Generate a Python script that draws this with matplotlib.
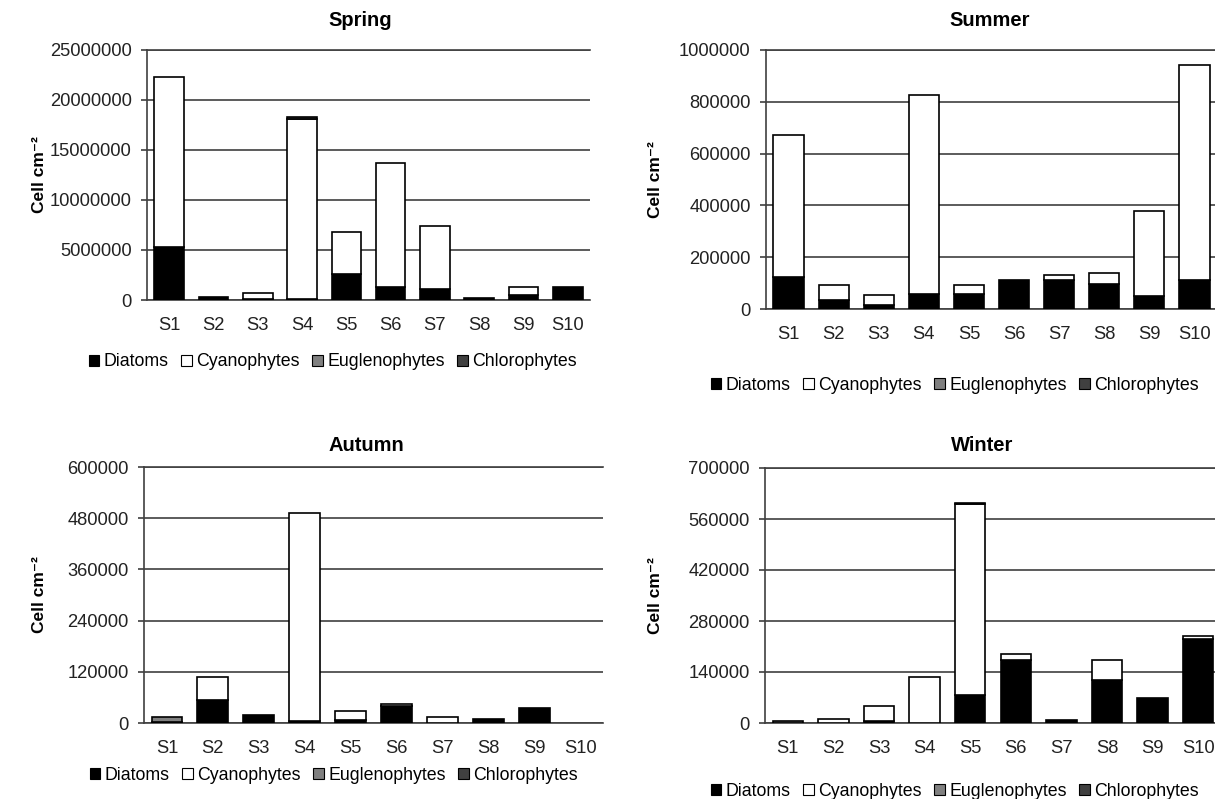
import matplotlib
matplotlib.use("Agg")
import matplotlib.pyplot as plt
from matplotlib.patches import Patch
import numpy as np

plt.rcParams['font.family'] = ['Liberation Sans', 'DejaVu Sans']

# ---- Data (cells per cm2) ----
stations = ["S1", "S2", "S3", "S4", "S5", "S6", "S7", "S8", "S9", "S10"]
groups = ["Diatoms", "Cyanophytes", "Euglenophytes", "Chlorophytes"]

spring_diatoms = [5330000, 300000, 100000, 120000, 2570000, 1270000, 1070000, 170000, 500000, 1270000]
spring_cyano = [16940000, 0, 630000, 18010000, 4260000, 12460000, 6300000, 0, 770000, 0]
spring_eugleno = [0, 0, 0, 0, 0, 0, 0, 0, 0, 0]
spring_chloro = [0, 0, 0, 200000, 0, 0, 0, 0, 0, 0]

summer_diatoms = [122000, 35000, 14000, 57000, 57000, 111000, 112000, 95000, 52000, 111000]
summer_cyano = [551000, 58000, 41000, 771000, 36000, 0, 19000, 43000, 326000, 832000]
summer_eugleno = [0, 0, 0, 0, 0, 0, 0, 0, 0, 0]
summer_chloro = [0, 0, 0, 0, 0, 0, 0, 0, 0, 0]

autumn_diatoms = [3000, 53000, 18000, 5000, 6000, 39000, 1000, 10000, 36000, 0]
autumn_cyano = [0, 55000, 0, 487000, 21500, 6500, 12000, 0, 0, 0]
autumn_eugleno = [10400, 0, 0, 0, 0, 0, 0, 0, 0, 0]
autumn_chloro = [0, 0, 0, 0, 0, 0, 0, 0, 0, 0]

winter_diatoms = [0, 0, 6000, 0, 77000, 173000, 8000, 117000, 69000, 231000]
winter_cyano = [0, 11000, 42000, 125000, 523000, 16000, 0, 55000, 0, 7000]
winter_eugleno = [6000, 0, 0, 0, 0, 0, 0, 0, 0, 0]
winter_chloro = [0, 0, 0, 0, 4000, 0, 0, 0, 0, 0]

spring_ticks = [0, 5000000, 10000000, 15000000, 20000000, 25000000]
summer_ticks = [0, 200000, 400000, 600000, 800000, 1000000]
autumn_ticks = [0, 120000, 240000, 360000, 480000, 600000]
winter_ticks = [0, 140000, 280000, 420000, 560000, 700000]

colors = ["#000000", "#ffffff", "#808080", "#404040"]
GRID = "#404040"

W, H = 1215, 799
fig = plt.figure(figsize=(W / 100, H / 100), dpi=100)


def fx(px):
    return px / W


def fy(py):
    return 1 - py / H


# pixel boxes: left, right, top, bottom ; title pos ; ylabel x ; legend y ; legend x
panels = [
    ("Spring", (spring_diatoms, spring_cyano, spring_eugleno, spring_chloro), spring_ticks,
     (147, 590, 50, 300), (360, 20), 40, 362, 333),
    ("Summer", (summer_diatoms, summer_cyano, summer_eugleno, summer_chloro), summer_ticks,
     (766, 1217, 50, 309), (990, 20), 655, 385, 955),
    ("Autumn", (autumn_diatoms, autumn_cyano, autumn_eugleno, autumn_chloro), autumn_ticks,
     (144, 603, 467, 723), (366, 445), 40, 775, 334),
    ("Winter", (winter_diatoms, winter_cyano, winter_eugleno, winter_chloro), winter_ticks,
     (765, 1221, 468, 723), (982, 445), 655, 791, 955),
]

x = np.arange(len(stations))

for title, series, ticks, box, tpos, ylx, legy, legx in panels:
    l, r, t, b = box
    ax = fig.add_axes([fx(l), fy(b), fx(r) - fx(l), fy(t) - fy(b)])
    bottom = np.zeros(len(stations))
    for vals, c in zip(series, colors):
        vals = np.array(vals, dtype=float)
        mask = vals > 0
        ax.bar(x[mask], vals[mask], width=0.67, bottom=bottom[mask], color=c,
               edgecolor="black", linewidth=1.2, zorder=3)
        bottom += vals
    ax.set_xlim(-0.5, len(stations) - 0.5)
    ax.set_ylim(ticks[0], ticks[-1])
    ax.set_yticks(ticks)
    ax.set_yticklabels([str(v) for v in ticks])
    ax.set_xticks(x)
    ax.set_xticklabels(stations)
    ax.yaxis.grid(True, color=GRID, linewidth=1.2, zorder=0)
    ax.set_axisbelow(True)
    ax.spines["right"].set_visible(False)
    for s in ["left", "bottom", "top"]:
        ax.spines[s].set_color(GRID)
        ax.spines[s].set_linewidth(1.2)
    ax.tick_params(axis="y", length=4, width=1.2, color=GRID, pad=7,
                   labelsize=13.2, labelcolor="#222222")
    ax.tick_params(axis="x", length=0, pad=12, labelsize=13.2, labelcolor="#222222")

    fig.text(fx(tpos[0]), fy(tpos[1]), title, ha="center", va="center",
             fontsize=14.5, fontweight="bold")
    fig.text(fx(ylx), (fy(t) + fy(b)) / 2, "Cell cm\u207b\u00b2", rotation=90,
             ha="center", va="center", fontsize=12.5, fontweight="bold",
             family=["Liberation Sans", "DejaVu Sans"])

    handles = [Patch(facecolor=c, edgecolor="black", linewidth=0.8, label=g)
               for c, g in zip(colors, groups)]
    fig.legend(handles=handles, loc="center", bbox_to_anchor=(fx(legx), fy(legy)),
               ncol=4, frameon=False, fontsize=12.8, handlelength=0.6,
               handleheight=0.6, handletextpad=0.25, columnspacing=0.7,
               borderaxespad=0, borderpad=0)

fig.savefig("out.png", dpi=100)
